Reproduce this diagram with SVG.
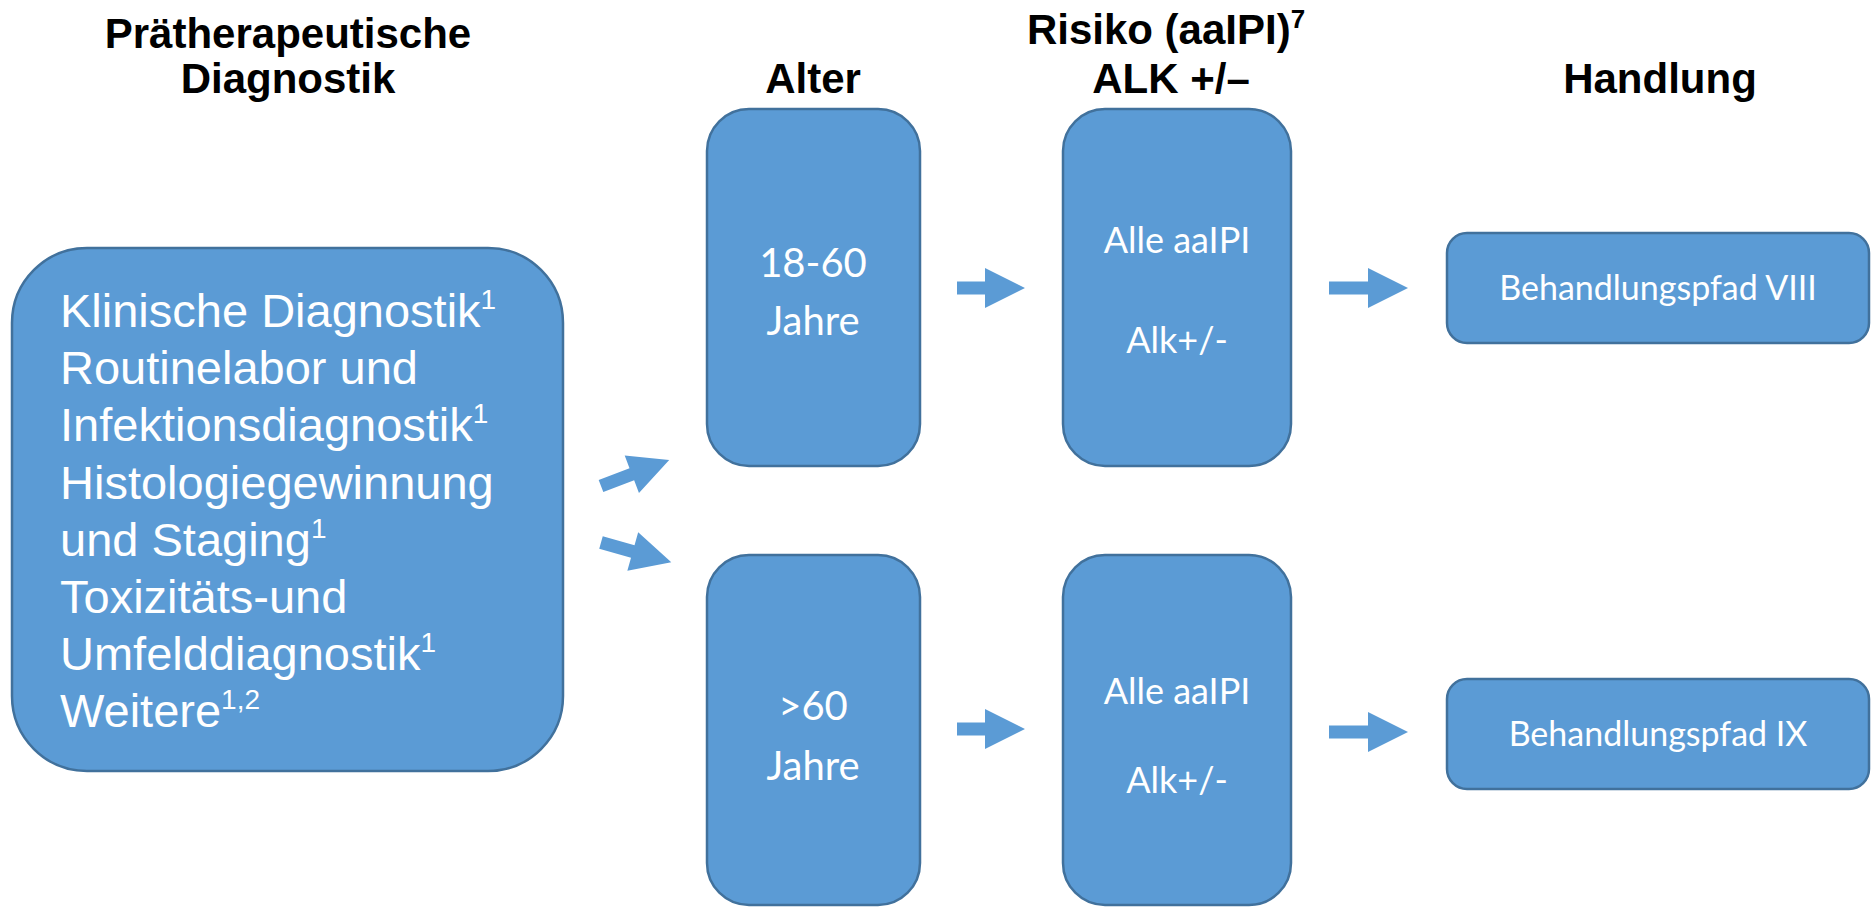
<svg xmlns="http://www.w3.org/2000/svg" width="1875" height="910" viewBox="0 0 1875 910">
<style>
.box{fill:#5B9BD5;stroke:#41719C;stroke-width:2.5}
.arr{fill:#5B9BD5}
.h{font-family:"Liberation Sans",Arial,sans-serif;font-weight:bold;font-size:42px;fill:#000;text-anchor:middle}
.big{font-family:"Liberation Sans",Arial,sans-serif;font-size:47px;fill:#fff}
.sup{font-size:28px}
.c{font-family:Lato,"Open Sans",sans-serif;fill:#fff;text-anchor:middle}
</style>
<rect width="1875" height="910" fill="#fff"/>
<g id="headings">
<text class="h" x="288" y="48">Prätherapeutische</text>
<text class="h" x="288" y="93">Diagnostik</text>
<text class="h" x="813" y="93">Alter</text>
<text class="h" x="1166" y="44">Risiko (aaIPI)<tspan font-size="26" dy="-16">7</tspan></text>
<text class="h" x="1171" y="93">ALK +/–</text>
<text class="h" x="1660" y="93">Handlung</text>
</g>
<g id="diagnostik">
<rect class="box" x="12" y="248" width="551" height="523" rx="75" ry="75"/>
<text class="big" x="60" y="327">Klinische Diagnostik<tspan class="sup" dy="-18">1</tspan></text>
<text class="big" x="60" y="384">Routinelabor und</text>
<text class="big" x="60" y="441">Infektionsdiagnostik<tspan class="sup" dy="-18">1</tspan></text>
<text class="big" x="60" y="499">Histologiegewinnung</text>
<text class="big" x="60" y="556">und Staging<tspan class="sup" dy="-18">1</tspan></text>
<text class="big" x="60" y="613">Toxizitäts-und</text>
<text class="big" x="60" y="670">Umfelddiagnostik<tspan class="sup" dy="-18">1</tspan></text>
<text class="big" x="60" y="727">Weitere<tspan class="sup" dy="-18">1,2</tspan></text>
</g>
<g id="alter1">
<rect class="box" x="707" y="109" width="213" height="357" rx="42" ry="42"/>
<text class="c" x="813" y="277" font-size="40">18-60</text>
<text class="c" x="813" y="335" font-size="40">Jahre</text>
</g>
<g id="alter2">
<rect class="box" x="707" y="555" width="213" height="350" rx="42" ry="42"/>
<text class="c" x="813" y="720" font-size="40">&gt;60</text>
<text class="c" x="813" y="780" font-size="40">Jahre</text>
</g>
<g id="risiko1">
<rect class="box" x="1063" y="109" width="228" height="357" rx="42" ry="42"/>
<text class="c" x="1177" y="253" font-size="36">Alle aaIPI</text>
<text class="c" x="1177" y="353" font-size="36">Alk+/-</text>
</g>
<g id="risiko2">
<rect class="box" x="1063" y="555" width="228" height="350" rx="42" ry="42"/>
<text class="c" x="1177" y="704" font-size="36">Alle aaIPI</text>
<text class="c" x="1177" y="793" font-size="36">Alk+/-</text>
</g>
<g id="pfad8">
<rect class="box" x="1447" y="233" width="422" height="110" rx="20" ry="20"/>
<text class="c" x="1658" y="300" font-size="34">Behandlungspfad VIII</text>
</g>
<g id="pfad9">
<rect class="box" x="1447" y="679" width="422" height="110" rx="20" ry="20"/>
<text class="c" x="1658" y="746" font-size="34">Behandlungspfad IX</text>
</g>
<g id="connectors">
<path class="arr" transform="translate(601,486) rotate(-20.9)" d="M0,-6.5 H33 V-20 L73,0 L33,20 V6.5 H0 Z"/>
<path class="arr" transform="translate(601,542.5) rotate(15.7)" d="M0,-6.5 H33 V-20 L73,0 L33,20 V6.5 H0 Z"/>
<path class="arr" transform="translate(957,288)" d="M0,-6.5 H28 V-20 L68,0 L28,20 V6.5 H0 Z"/>
<path class="arr" transform="translate(1329,288)" d="M0,-6.5 H39 V-20 L79,0 L39,20 V6.5 H0 Z"/>
<path class="arr" transform="translate(957,729)" d="M0,-6.5 H28 V-20 L68,0 L28,20 V6.5 H0 Z"/>
<path class="arr" transform="translate(1329,732)" d="M0,-6.5 H39 V-20 L79,0 L39,20 V6.5 H0 Z"/>
</g>
</svg>
